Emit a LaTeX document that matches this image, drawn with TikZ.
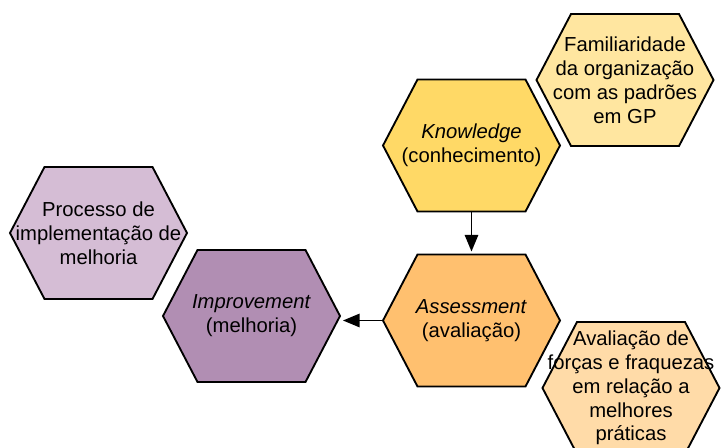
\documentclass[tikz,border=0pt]{standalone}
\usepackage{fontspec}
\setmainfont{Liberation Sans}
\usetikzlibrary{arrows.meta}

\definecolor{knowfill}{HTML}{FFD966}
\definecolor{famfill}{HTML}{FFE6A0}
\definecolor{assessfill}{HTML}{FFC06F}
\definecolor{avalfill}{HTML}{FFDBA8}
\definecolor{improvefill}{HTML}{B18EB3}
\definecolor{procfill}{HTML}{D5BDD5}

% hexagon with a label node on top: name, centre, fill, text
\newcommand\hexnode[4]{%
  \draw[hexline, fill=#3, shift={(#2)}]
    (-54,-66) -- (54,-66) -- (88.5,0) -- (54,66) -- (-54,66) -- (-88.5,0) -- cycle;
  \node[hexlabel] (#1) at (#2) {#4};}

\begin{document}
\begin{tikzpicture}[x=0.75pt,y=-0.75pt,
  hexline/.style={draw=black, line width=1.4pt, line join=miter},
  hexlabel/.style={align=center, inner sep=0pt, minimum width=132.75pt,
    minimum height=99pt, font=\fontsize{15.2}{17.9}\selectfont},
  flow/.style={draw=black, line width=1.4pt,
    -{Triangle[length=12.5pt,width=10pt]}, shorten >=2pt}]
\useasboundingbox (0,0) rectangle (726,448);
\clip (0,0) rectangle (726,448);

\hexnode{fam}{625,80}{famfill}{Familiaridade\\da organização\\com as padrões\\em GP}
\hexnode{know}{471.5,145.5}{knowfill}{\textit{Knowledge}\\(conhecimento)}
\hexnode{proc}{98.5,233}{procfill}{Processo de\\implementação de\\melhoria}
\hexnode{improve}{251.5,316}{improvefill}{\textit{Improvement}\\(melhoria)}
\hexnode{assess}{471.5,320.5}{assessfill}{\textit{Assessment}\\(avaliação)}
\hexnode{aval}{631,388}{avalfill}{Avaliação de\\forças e fraquezas\\em relação a\\melhores\\práticas}

\draw[flow] (know.south) -- (assess.north);
\draw[flow] (assess.west) -- (assess.west -| improve.east);
\end{tikzpicture}
\end{document}
